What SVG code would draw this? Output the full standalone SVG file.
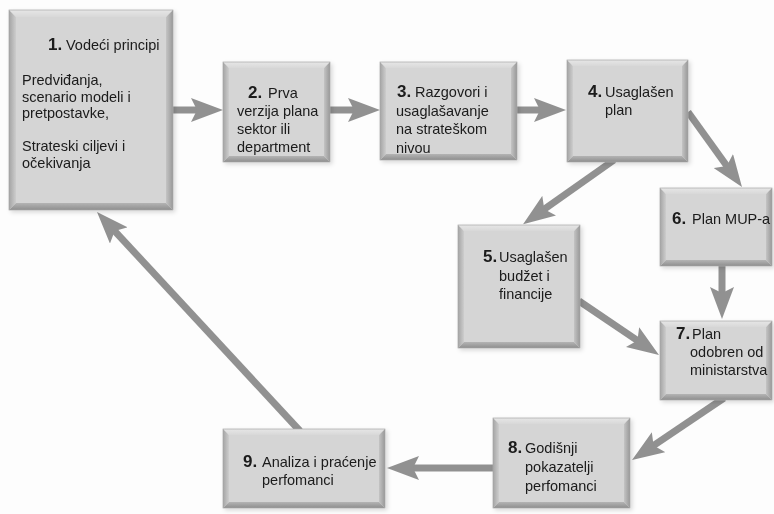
<svg xmlns="http://www.w3.org/2000/svg" width="774" height="514" viewBox="0 0 774 514">
<style>
.bt{fill:url(#gt)}
.bl{fill:url(#gl)}
.br{fill:url(#gr)}
.bb{fill:url(#gb)}
.face{fill:#d5d5d5}
.out{fill:none;stroke:#a6a6a6;stroke-width:0.7}
text{font-family:"Liberation Sans",Arial,sans-serif;font-size:14.5px;fill:#1a1a1a}
.n{font-size:17px;font-weight:bold}
.c{fill:none;stroke:#919191;stroke-width:7;marker-end:url(#ah)}
</style>
<defs>
<linearGradient id="gt" x1="0" y1="0" x2="0" y2="1"><stop offset="0" stop-color="#e6e6e6"/><stop offset="1" stop-color="#d8d8d8"/></linearGradient>
<linearGradient id="gl" x1="0" y1="0" x2="1" y2="0"><stop offset="0" stop-color="#a4a4a4"/><stop offset="1" stop-color="#cdcdcd"/></linearGradient>
<linearGradient id="gr" x1="0" y1="0" x2="1" y2="0"><stop offset="0" stop-color="#c4c4c4"/><stop offset="1" stop-color="#989898"/></linearGradient>
<linearGradient id="gb" x1="0" y1="0" x2="0" y2="1"><stop offset="0" stop-color="#b4b4b4"/><stop offset="1" stop-color="#8e8e8e"/></linearGradient>
<marker id="ah" viewBox="0 0 32 24" refX="12" refY="12" markerWidth="32" markerHeight="24" markerUnits="userSpaceOnUse" orient="auto">
<path d="M0,0 L32,12 L0,24 L6,12 Z" fill="#919191"/>
</marker>
<filter id="sh" x="-10%" y="-10%" width="125%" height="125%">
<feDropShadow dx="2" dy="2" stdDeviation="2" flood-color="#000" flood-opacity="0.15"/>
</filter>
</defs>
<rect width="774" height="514" fill="#fdfdfd"/>
<g id="connectors">
<line class="c" x1="170" y1="110" x2="203" y2="110"/>
<line class="c" x1="327" y1="110" x2="360" y2="110"/>
<line class="c" x1="514" y1="110" x2="546" y2="110"/>
<line class="c" x1="688" y1="112" x2="730.3" y2="170.8"/>
<line class="c" x1="614" y1="160" x2="539.4" y2="212.6"/>
<line class="c" x1="722" y1="263" x2="722" y2="299"/>
<line class="c" x1="579" y1="301" x2="642.4" y2="343.8"/>
<line class="c" x1="724" y1="398" x2="648.6" y2="448.9"/>
<line class="c" x1="496" y1="468" x2="407" y2="468"/>
<line class="c" x1="300" y1="431" x2="110.6" y2="226.6"/>
</g>
<g id="node1" filter="url(#sh)">
<polygon class="bt" points="9,10 173,10 166,17 16,17"/>
<polygon class="bl" points="9,10 16,17 16,203 9,210"/>
<polygon class="br" points="173,10 173,210 166,203 166,17"/>
<polygon class="bb" points="9,210 16,203 166,203 173,210"/>
<rect class="face" x="16" y="17" width="150" height="186"/>
<rect class="out" x="9" y="10" width="164" height="200"/>
<text x="48" y="50"><tspan class="n">1.</tspan><tspan x="66">Vodeći principi</tspan></text>
<text x="22" y="85">Predviđanja,</text>
<text x="22" y="101.5">scenario modeli i</text>
<text x="22" y="118">pretpostavke,</text>
<text x="22" y="151">Strateski ciljevi i</text>
<text x="22" y="167.5">očekivanja</text>
</g>
<g id="node2" filter="url(#sh)">
<polygon class="bt" points="223,62 330,62 324,68 229,68"/>
<polygon class="bl" points="223,62 229,68 229,156 223,162"/>
<polygon class="br" points="330,62 330,162 324,156 324,68"/>
<polygon class="bb" points="223,162 229,156 324,156 330,162"/>
<rect class="face" x="229" y="68" width="95" height="88"/>
<rect class="out" x="223" y="62" width="107" height="100"/>
<text x="248" y="98"><tspan class="n">2.</tspan><tspan x="268">Prva</tspan></text>
<text x="237" y="116">verzija plana</text>
<text x="237" y="134">sektor ili</text>
<text x="237" y="152">department</text>
</g>
<g id="node3" filter="url(#sh)">
<polygon class="bt" points="380,62 517,62 511,68 386,68"/>
<polygon class="bl" points="380,62 386,68 386,154 380,160"/>
<polygon class="br" points="517,62 517,160 511,154 511,68"/>
<polygon class="bb" points="380,160 386,154 511,154 517,160"/>
<rect class="face" x="386" y="68" width="125" height="86"/>
<rect class="out" x="380" y="62" width="137" height="98"/>
<text x="397" y="97"><tspan class="n">3.</tspan><tspan x="415">Razgovori i</tspan></text>
<text x="396" y="115.5">usaglašavanje</text>
<text x="396" y="134">na strateškom</text>
<text x="396" y="152.5">nivou</text>
</g>
<g id="node4" filter="url(#sh)">
<polygon class="bt" points="567,60 688,60 682,66 573,66"/>
<polygon class="bl" points="567,60 573,66 573,156 567,162"/>
<polygon class="br" points="688,60 688,162 682,156 682,66"/>
<polygon class="bb" points="567,162 573,156 682,156 688,162"/>
<rect class="face" x="573" y="66" width="109" height="90"/>
<rect class="out" x="567" y="60" width="121" height="102"/>
<text x="588" y="97"><tspan class="n">4.</tspan><tspan x="605">Usaglašen</tspan></text>
<text x="605" y="115">plan</text>
</g>
<g id="node5" filter="url(#sh)">
<polygon class="bt" points="458,225 580,225 574,231 464,231"/>
<polygon class="bl" points="458,225 464,231 464,342 458,348"/>
<polygon class="br" points="580,225 580,348 574,342 574,231"/>
<polygon class="bb" points="458,348 464,342 574,342 580,348"/>
<rect class="face" x="464" y="231" width="110" height="111"/>
<rect class="out" x="458" y="225" width="122" height="123"/>
<text x="483" y="262"><tspan class="n">5.</tspan><tspan x="499">Usaglašen</tspan></text>
<text x="499" y="281">budžet i</text>
<text x="499" y="299">financije</text>
</g>
<g id="node6" filter="url(#sh)">
<polygon class="bt" points="660,188 772,188 766,194 666,194"/>
<polygon class="bl" points="660,188 666,194 666,260 660,266"/>
<polygon class="br" points="772,188 772,266 766,260 766,194"/>
<polygon class="bb" points="660,266 666,260 766,260 772,266"/>
<rect class="face" x="666" y="194" width="100" height="66"/>
<rect class="out" x="660" y="188" width="112" height="78"/>
<text x="672" y="224"><tspan class="n">6.</tspan><tspan x="692">Plan MUP-a</tspan></text>
</g>
<g id="node7" filter="url(#sh)">
<polygon class="bt" points="660,321 772,321 766,327 666,327"/>
<polygon class="bl" points="660,321 666,327 666,394 660,400"/>
<polygon class="br" points="772,321 772,400 766,394 766,327"/>
<polygon class="bb" points="660,400 666,394 766,394 772,400"/>
<rect class="face" x="666" y="327" width="100" height="67"/>
<rect class="out" x="660" y="321" width="112" height="79"/>
<text x="676" y="339"><tspan class="n">7.</tspan><tspan x="692">Plan</tspan></text>
<text x="690" y="357">odobren od</text>
<text x="690" y="375">ministarstva</text>
</g>
<g id="node8" filter="url(#sh)">
<polygon class="bt" points="493,418 630,418 624,424 499,424"/>
<polygon class="bl" points="493,418 499,424 499,502 493,508"/>
<polygon class="br" points="630,418 630,508 624,502 624,424"/>
<polygon class="bb" points="493,508 499,502 624,502 630,508"/>
<rect class="face" x="499" y="424" width="125" height="78"/>
<rect class="out" x="493" y="418" width="137" height="90"/>
<text x="508" y="453"><tspan class="n">8.</tspan><tspan x="525">Godišnji</tspan></text>
<text x="525" y="472">pokazatelji</text>
<text x="525" y="491">perfomanci</text>
</g>
<g id="node9" filter="url(#sh)">
<polygon class="bt" points="223,429 385,429 379,435 229,435"/>
<polygon class="bl" points="223,429 229,435 229,502 223,508"/>
<polygon class="br" points="385,429 385,508 379,502 379,435"/>
<polygon class="bb" points="223,508 229,502 379,502 385,508"/>
<rect class="face" x="229" y="435" width="150" height="67"/>
<rect class="out" x="223" y="429" width="162" height="79"/>
<text x="243" y="467"><tspan class="n">9.</tspan><tspan x="262">Analiza i praćenje</tspan></text>
<text x="262" y="485">perfomanci</text>
</g>
</svg>
